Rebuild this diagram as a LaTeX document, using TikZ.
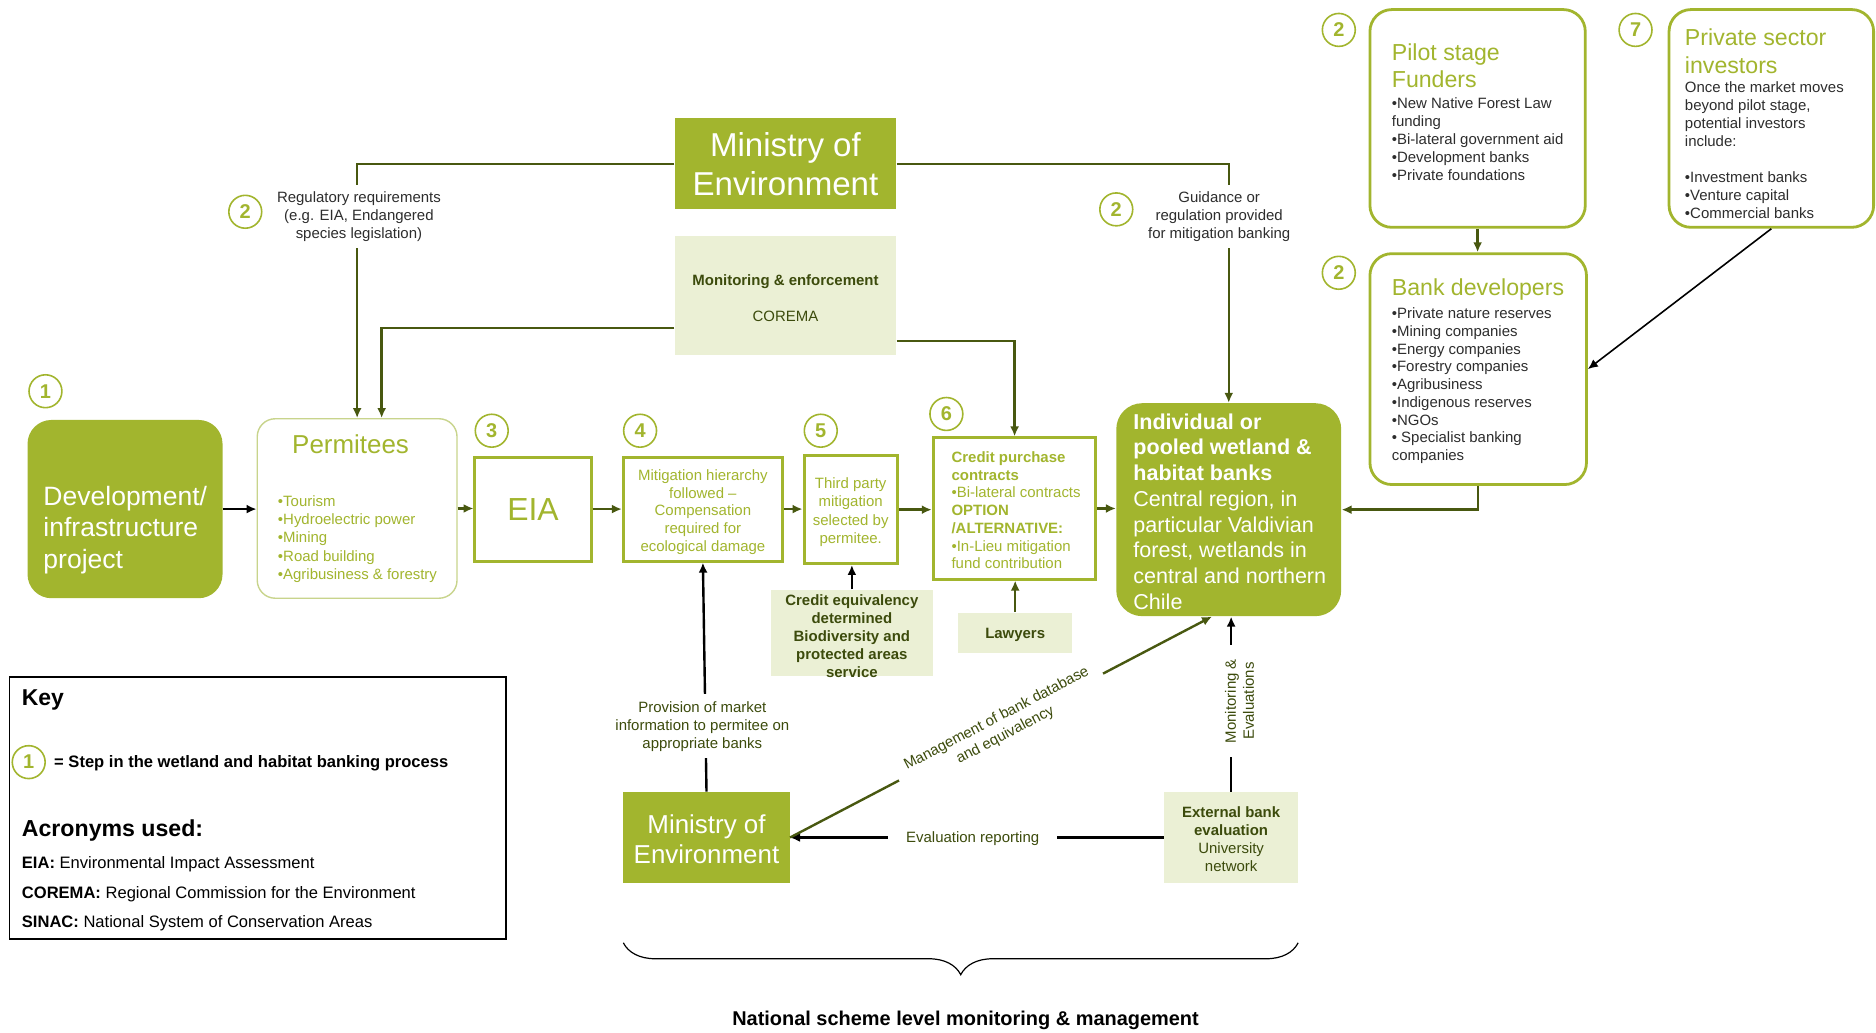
\documentclass[tikz,border=0pt]{standalone}
\usepackage{fontspec}
\setmainfont{Liberation Sans}
\usetikzlibrary{arrows.meta,decorations.pathreplacing,calc}
\definecolor{G}{RGB}{162,181,46}
\definecolor{GL}{RGB}{200,212,140}
\definecolor{L}{RGB}{235,240,213}
\definecolor{D}{RGB}{72,88,16}
\definecolor{TD}{RGB}{60,75,12}
\definecolor{TG}{RGB}{45,45,45}
\newcommand\myfs[2]{\fontsize{#1}{#2}\selectfont}
\begin{document}
\begin{tikzpicture}[x=0.6pt,y=-0.6pt,
  every node/.style={inner sep=0pt},
  gbox/.style={fill=G, draw=none, text=white},
  lbox/.style={fill=L, draw=none},
  obox/.style={draw=G, line width=1.5pt, fill=white},
  rbox/.style={draw=G, line width=1.4pt, rounded corners=11pt, fill=white},
  num/.style={circle, draw=G, line width=0.8pt, fill=white, minimum size=16.5pt, text=G, font=\myfs{10}{12}\bfseries},
  darr/.style={draw=D, line width=1.2pt, -{Latex[length=5pt,width=4.5pt]}},
  barr/.style={draw=black, line width=1.2pt, -{Latex[length=5pt,width=4.5pt]}},
  lab/.style={fill=white, inner sep=3.5pt, align=center, font=\myfs{7.5}{9}}
]
\useasboundingbox (0,0) rectangle (1568,863);

% ---------- boxes ----------
\node[gbox, minimum width=111pt, minimum height=45.6pt, align=center, font=\myfs{16.6}{19.8}] (mintop) at (656.5,137) {Ministry of\\Environment};
\node[lbox, minimum width=111pt, minimum height=60pt] (monitor) at (656.5,247) {};
\node[align=center, text=TD, font=\myfs{7.5}{9}] (montxt) at (656.5,249) {\textbf{Monitoring \& enforcement}\\[9pt]COREMA};

\node[gbox, rounded corners=12pt, minimum width=97.8pt, minimum height=89.4pt] (dev) at (104.5,425.5) {};
\node[anchor=west, align=left, text=white, font=\myfs{13.3}{15.9}] (devtxt) at (36,443) {Development/\\infrastructure\\project};

\node[draw=GL, line width=0.7pt, rounded corners=9pt, fill=white, minimum width=100.2pt, minimum height=90pt] (perm) at (298.5,425) {};
\node[text=G, font=\myfs{13}{15}] (permtitle) at (293,371) {Permitees};
\node[anchor=west, align=left, text=G, font=\myfs{7.5}{9.15}] (permlist) at (232,450.5) {•Tourism\\•Hydroelectric power\\•Mining\\•Road building\\•Agribusiness \& forestry};

\node[obox, minimum width=58.2pt, minimum height=52.2pt, text=G, font=\myfs{16}{19}] (eia) at (445.5,425.5) {EIA};
\node[obox, minimum width=79.8pt, minimum height=52.2pt] (mitig) at (587.5,425.5) {};
\node[text=G, align=center, font=\myfs{7.5}{8.85}] (mitigtxt) at (587.5,428) {Mitigation hierarchy\\followed –\\Compensation\\required for\\ecological damage};
\node[obox, minimum width=46.8pt, minimum height=54pt] (third) at (711,426) {};
\node[text=G, align=center, font=\myfs{7.5}{9.2}] (thirdtxt) at (711,428) {Third party\\mitigation\\selected by\\permitee.};

\node[obox, minimum width=81.6pt, minimum height=70.8pt] (credit) at (848,425) {};
\node[anchor=west, align=left, text=G, font=\myfs{7.5}{8.9}] (credtxt) at (795,426.5) {\textbf{Credit purchase}\\\textbf{contracts}\\•Bi-lateral contracts\\\textbf{OPTION}\\\textbf{/ALTERNATIVE:}\\•In-Lieu mitigation\\fund contribution};

\node[gbox, rounded corners=13pt, minimum width=112.8pt, minimum height=106.8pt] (wet) at (1027,426) {};
\node[anchor=west, align=left, text=white, font=\myfs{10.8}{12.9}] (wettxt) at (947,427.5) {\textbf{Individual or}\\\textbf{pooled wetland \&}\\\textbf{habitat banks}\\Central region, in\\particular Valdivian\\forest, wetlands in\\central and northern\\Chile};

\node[rbox, minimum width=108pt, minimum height=109.2pt] (pilot) at (1235,99) {};
\node[anchor=west, align=left, text=G, font=\myfs{11.6}{13.8}] (pilottitle) at (1163,55) {Pilot stage\\Funders};
\node[anchor=west, align=left, text=TG, font=\myfs{7.5}{9}] (pilotlist) at (1163,116) {•New Native Forest Law\\funding\\•Bi-lateral government aid\\•Development banks\\•Private foundations};

\node[rbox, minimum width=108.6pt, minimum height=115.8pt] (bankdev) at (1235.5,308.5) {};
\node[anchor=west, text=G, font=\myfs{11.6}{13.8}] (bdtitle) at (1163,242) {Bank developers};
\node[anchor=west, align=left, text=TG, font=\myfs{7.5}{8.9}] (bdlist) at (1163,322.5) {•Private nature reserves\\•Mining companies\\•Energy companies\\•Forestry companies\\•Agribusiness\\•Indigenous reserves\\•NGOs\\• Specialist banking\\companies};

\node[rbox, minimum width=102.6pt, minimum height=109.2pt] (private) at (1480.5,99) {};
\node[anchor=west, align=left, text=G, font=\myfs{11.6}{13.8}] (privtitle) at (1408,43) {Private sector\\investors};
\node[anchor=west, align=left, text=TG, font=\myfs{7.5}{9}] (privlist) at (1408,125.5) {Once the market moves\\beyond pilot stage,\\potential investors\\include:\\[9pt]•Investment banks\\•Venture capital\\•Commercial banks};

\node[lbox, minimum width=81.6pt, minimum height=43.2pt] (crediteq) at (712,529) {};
\node[align=center, text=TD, font=\myfs{7.5}{9}\bfseries] (crediteqtxt) at (712,532) {Credit equivalency\\determined\\Biodiversity and\\protected areas\\service};
\node[lbox, minimum width=57pt, minimum height=20.4pt] (lawyers) at (848.5,529) {};
\node[text=TD, font=\myfs{7.5}{9}\bfseries] (lawtxt) at (848.5,530.5) {Lawyers};

\node[gbox, minimum width=83.4pt, minimum height=45.6pt] (minbot) at (590.5,700) {};
\node[align=center, text=white, font=\myfs{13}{15}] (minbottxt) at (590.5,701.5) {Ministry of\\Environment};
\node[lbox, minimum width=67.2pt, minimum height=45.6pt] (ext) at (1029,700) {};
\node[align=center, text=TD, font=\myfs{7.5}{9}] (exttxt) at (1029,701.5) {\textbf{External bank}\\\textbf{evaluation}\\University\\network};

% ---------- connectors ----------
\draw[barr] (dev.east) -- (dev.east -| perm.west);
\draw[darr] (perm.east) -- (perm.east -| eia.west);
\draw[darr] (eia.east) -- (mitig.west);
\draw[darr] (mitig.east) -- (mitig.east -| third.west);
\draw[darr] (third.east) -- (third.east -| credit.west);
\draw[darr] (credit.east) -- (credit.east -| wet.west);

\draw[darr] (mintop.west) -| (perm.north);
\draw[darr] ([yshift=-16.2pt]monitor.west) -| ([xshift=12.3pt]perm.north);
\draw[darr] ([yshift=-22.8pt]monitor.east) -| (credit.north);
\draw[darr] (mintop.east) -| (wet.north);

\draw[darr] (pilot.south) -- (pilot.south |- bankdev.north);
\draw[barr, line width=0.8pt] (private.south) -- (bankdev.east);
\draw[darr] (bankdev.south) |- (wet.east);

\draw[barr] (crediteq.north) -- (crediteq.north |- third.south);
\draw[darr] (lawyers.north) -- (lawyers.north |- credit.south);
\draw[barr] (minbot.north) -- (mitig.south);
\draw[barr] (ext.west) -- (minbot.east);
\draw[barr] (ext.north) -- (ext.north |- wet.south);
\draw[darr] (minbot.east) -- ([xshift=-8.4pt]wet.south)
  node[lab, sloped, pos=0.5, text=TD, inner xsep=6pt, inner ysep=1pt, font=\myfs{7.5}{9.4}] (mgmtlab) {Management of bank database\\and equivalency};

% ---------- connector labels ----------
\node[lab, text=TG] (reglab) at (300,181) {Regulatory requirements\\(e.g. EIA, Endangered\\species legislation)};
\node[lab, text=TG] (guidlab) at (1019,181) {Guidance or\\regulation provided\\for mitigation banking};
\node[lab, text=TD] (provlab) at (587,607) {Provision of market\\information to permitee on\\appropriate banks};
\node[lab, text=TD, inner xsep=9pt] (evallab) at (813,701) {Evaluation reporting};
\node[lab, text=TD, rotate=90, inner xsep=7pt, inner ysep=1pt] (monlab) at (1036,586) {Monitoring \&\\Evaluations};

% ---------- step numbers ----------
\node[num] (n1) at (38,327) {1};
\node[num] (n2a) at (205,177) {2};
\node[num] (n3) at (411,360) {3};
\node[num] (n4) at (535,360) {4};
\node[num] (n5) at (686,360) {5};
\node[num] (n6) at (791,346) {6};
\node[num] (n2b) at (933,175) {2};
\node[num] (n2c) at (1119,25) {2};
\node[num] (n2d) at (1119,228) {2};
\node[num] (n7) at (1367,25) {7};

% ---------- key ----------
\node[draw=black, line width=0.8pt, minimum width=249pt, minimum height=131.4pt] (key) at (215.5,675.5) {};
\node[anchor=west, font=\myfs{11.5}{13}\bfseries] (keyt) at (18,585) {Key};
\node[num] (k1) at (24,637) {1};
\node[anchor=west, font=\myfs{8.3}{10}\bfseries] (keystep) at (45,638) {= Step in the wetland and habitat banking process};
\node[anchor=west, font=\myfs{11.6}{13}\bfseries] (acr) at (18,694) {Acronyms used:};
\node[anchor=west, font=\myfs{8.3}{10}] (acr1) at (18,722) {\textbf{EIA:} Environmental Impact Assessment};
\node[anchor=west, font=\myfs{8.3}{10}] (acr2) at (18,747) {\textbf{COREMA:} Regional Commission for the Environment};
\node[anchor=west, font=\myfs{8.3}{10}] (acr3) at (18,772) {\textbf{SINAC:} National System of Conservation Areas};

% ---------- brace ----------
\draw[decorate, decoration={brace, amplitude=16pt}, line width=0.6pt] (1085,788) -- (521,788);
\node[font=\myfs{10}{12}\bfseries] (natl) at (807,853) {National scheme level monitoring \& management};
\end{tikzpicture}
\end{document}
